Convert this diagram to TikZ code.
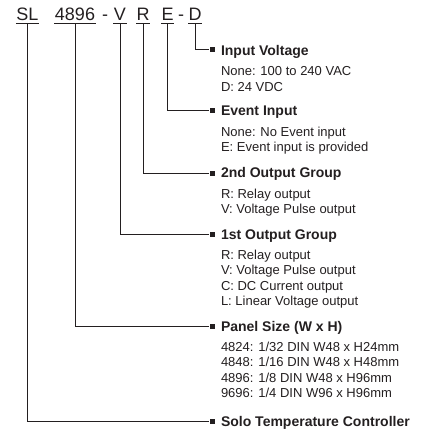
\documentclass[tikz,border=0pt]{standalone}
\usepackage{fontspec}
\setmainfont{Liberation Sans}
\definecolor{ink}{HTML}{231F20}

\begin{document}
\begin{tikzpicture}[x=1pt, y=1pt, color=ink, line width=1pt,
	code/.style={inner sep=0pt, anchor=base, font=\fontsize{18}{18}\selectfont},
	head/.style={inner sep=0pt, anchor=base west, font=\fontsize{14}{14}\selectfont\bfseries},
	body/.style={inner sep=0pt, anchor=north west, align=left, font=\fontsize{13}{15.5}\selectfont},
	sq/.style={fill=ink, inner sep=0pt, minimum size=5pt}]
	\useasboundingbox (0,0) rectangle (424,-430);
	\def\cy{-20.7};
	% order code
	\node[code] (sl) at (27.5,\cy) {SL};
	\node[code] (sz) at (75,\cy) {4896};
	\node[code] (dsh1) at (105,\cy) {-};
	\node[code] (og1) at (120,\cy) {V};
	\node[code] (og2) at (143,\cy) {R};
	\node[code] (ev) at (167.5,\cy) {E};
	\node[code] (dsh2) at (181,\cy) {-};
	\node[code] (iv) at (195,\cy) {D};
	\foreach \n in {sl,sz,og1,og2,ev,iv}
		\draw ([yshift=-2.5]\n.base west) -- ([yshift=-2.5]\n.base east);
	% end marks
	\node[sq] (s-iv) at (212,-50) {};
	\node[sq] (s-ev) at (212,-111) {};
	\node[sq] (s-og2) at (212,-173.3) {};
	\node[sq] (s-og1) at (212,-234) {};
	\node[sq] (s-sz) at (212,-326) {};
	\node[sq] (s-sl) at (212,-421) {};
	% headings
	\node[head] (h-iv) at (220.5,-55.5) {Input Voltage};
	\node[head] (h-ev) at (220.5,-116) {Event Input};
	\node[head] (h-og2) at (220.5,-178) {2nd Output Group};
	\node[head] (h-og1) at (220.5,-239) {1st Output Group};
	\node[head] (h-sz) at (220.5,-331) {Panel Size (W x H)};
	\node[head] (h-sl) at (220.5,-426) {Solo Temperature Controller};
	% options
	\node[body] (b-iv) at ([yshift=-10.5]h-iv.base west) {None: 100 to 240 VAC\\D: 24 VDC};
	\node[body] (b-ev) at ([yshift=-10.5]h-ev.base west) {None: No Event input\\E: Event input is provided};
	\node[body] (b-og2) at ([yshift=-10.5]h-og2.base west) {R: Relay output\\V: Voltage Pulse output};
	\node[body] (b-og1) at ([yshift=-10.5]h-og1.base west) {R: Relay output\\V: Voltage Pulse output\\C: DC Current output\\L: Linear Voltage output};
	\node[body] (b-sz) at ([yshift=-10.5]h-sz.base west) {4824: 1/32 DIN W48 x H24mm\\4848: 1/16 DIN W48 x H48mm\\4896: 1/8 DIN W48 x H96mm\\9696: 1/4 DIN W96 x H96mm};
	% leaders
	\draw ([yshift=-2.5]iv.base) |- (s-iv);
	\draw ([yshift=-2.5]ev.base) |- (s-ev);
	\draw ([yshift=-2.5]og2.base) |- (s-og2);
	\draw ([yshift=-2.5]og1.base) |- (s-og1);
	\draw ([yshift=-2.5]sz.base) |- (s-sz);
	\draw ([yshift=-2.5]sl.base) |- (s-sl);
\end{tikzpicture}
\end{document}
